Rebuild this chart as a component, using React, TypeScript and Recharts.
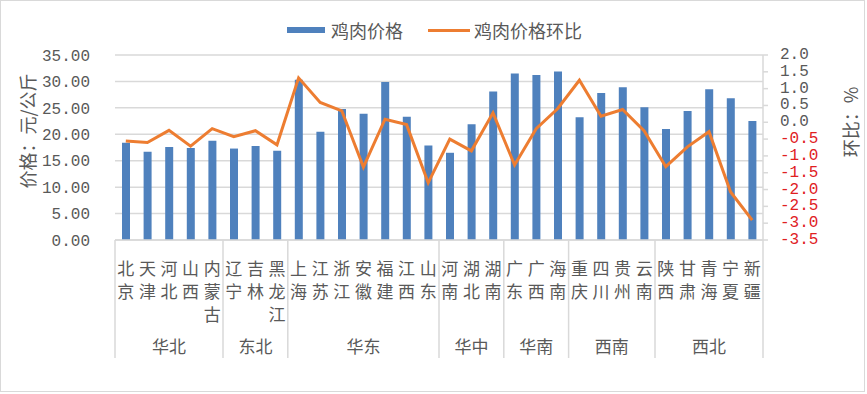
import React from "react";
import {
  ComposedChart, Bar, Line, XAxis, YAxis, CartesianGrid,
} from "recharts";

const provinces = [
  "北京", "天津", "河北", "山西", "内蒙古",
  "辽宁", "吉林", "黑龙江",
  "上海", "江苏", "浙江", "安徽", "福建", "江西", "山东",
  "河南", "湖北", "湖南",
  "广东", "广西", "海南",
  "重庆", "四川", "贵州", "云南",
  "陕西", "甘肃", "青海", "宁夏", "新疆",
];
const groupNames = ["华北", "东北", "华东", "华中", "华南", "西南", "西北"];
const groupSizes = [5, 3, 7, 3, 3, 4, 5];

// 鸡肉价格 (元/公斤)
const prices = [
  18.4, 16.7, 17.6, 17.4, 18.8,
  17.3, 17.8, 16.9,
  30.3, 20.5, 24.8, 23.9, 29.9, 23.3, 17.9,
  16.5, 21.9, 28.1,
  31.5, 31.2, 31.9,
  23.2, 27.8, 28.9, 25.1,
  21.0, 24.4, 28.5, 26.8, 22.5,
];
// 鸡肉价格环比 (%)
const changes = [
  -0.56, -0.60, -0.24, -0.71, -0.19,
  -0.43, -0.25, -0.67,
  1.32, 0.59, 0.34, -1.33, 0.09, -0.07, -1.80,
  -0.50, -0.85, 0.28,
  -1.27, -0.19, 0.41,
  1.25, 0.18, 0.38, -0.26,
  -1.32, -0.73, -0.28, -2.07, -2.91,
];

const priceTicks = [0, 5, 10, 15, 20, 25, 30, 35];
const changeTicks = [-3.5, -3, -2.5, -2, -1.5, -1, -0.5, 0, 0.5, 1, 1.5, 2];

const data = provinces.map((p, i) => ({ name: p, price: prices[i], change: changes[i] }));

// first index of each group
const groupStart: number[] = [];
groupSizes.reduce((acc, n) => { groupStart.push(acc); return acc + n; }, 0);

const W = 867, H = 394;
const M = { top: 55, right: 44, left: 50, bottom: 24 };
const LEFT_AXIS_W = 65, RIGHT_AXIS_W = 60, X_AXIS_H = 130;
const PLOT_W = W - M.left - M.right - LEFT_AXIS_W - RIGHT_AXIS_W;
const BAND = PLOT_W / provinces.length;

const CJK = '"Noto Sans CJK SC", "Noto Sans", sans-serif';
const NUM = '"Liberation Mono", "DejaVu Sans Mono", monospace';
const TEXT = "#595959";
const GRID = "#d9d9d9";

function ProvinceTick({ x, y, payload, index }: any) {
  const chars = String(payload.value).split("");
  const g = groupStart.indexOf(index);
  return (
    <g>
      {chars.map((c, k) => (
        <text key={k} x={x} y={y + 27 + k * 23} textAnchor="middle" dominantBaseline="central"
          fontFamily={CJK} fontSize={17} fill={TEXT}>{c}</text>
      ))}
      {g >= 0 && (
        <>
          <line x1={x - BAND / 2} x2={x - BAND / 2} y1={y} y2={y + 118} stroke={GRID} strokeWidth={1.5} />
          <text x={x + ((groupSizes[g] - 1) / 2) * BAND} y={y + 105} textAnchor="middle" dominantBaseline="central"
            fontFamily={CJK} fontSize={17} fill={TEXT}>{groupNames[g]}</text>
        </>
      )}
      {index === provinces.length - 1 && (
        <line x1={x + BAND / 2} x2={x + BAND / 2} y1={y} y2={y + 118} stroke={GRID} strokeWidth={1.5} />
      )}
    </g>
  );
}

function ChangeTick({ x, y, payload }: any) {
  const v = Number(payload.value);
  return (
    <text x={x} y={y} dominantBaseline="central" textAnchor="start" fontFamily={NUM} fontSize={16}
      fill={v < 0 ? "#E0201F" : TEXT}>{v.toFixed(1)}</text>
  );
}

const axisTitle = (left: number, top: number): React.CSSProperties => ({
  position: "absolute", left, top, transform: "translate(-50%, -50%) rotate(-90deg)",
  fontFamily: CJK, fontSize: 18, color: TEXT, whiteSpace: "nowrap",
});

export default function App() {
  return (
    <div style={{ position: "absolute", left: 0, top: 0, width: W, height: H, background: "#fff" }}>
      <div style={{ position: "absolute", left: 0, top: 0, width: 865, height: 392, boxSizing: "border-box", border: `1px solid ${GRID}` }} />

      {/* legend */}
      <div style={{ position: "absolute", top: 17, left: 287, display: "flex", alignItems: "center", fontFamily: CJK, fontSize: 18, color: TEXT, whiteSpace: "nowrap" }}>
        <span style={{ display: "inline-block", width: 38, height: 6, background: "#4F81BD", marginRight: 6 }} />
        <span>鸡肉价格</span>
        <span style={{ display: "inline-block", width: 42, height: 3, background: "#ED7D31", marginLeft: 25, marginRight: 4 }} />
        <span>鸡肉价格环比</span>
      </div>

      <ComposedChart width={W} height={H} data={data} margin={M} style={{ position: "absolute", left: 0, top: 0 }}>
        <CartesianGrid yAxisId="left" vertical={false} stroke={GRID} strokeWidth={1.5} />
        <XAxis dataKey="name" interval={0} height={X_AXIS_H} tickSize={0} tickMargin={0}
          axisLine={{ stroke: GRID, strokeWidth: 1.5 }} tickLine={false} tick={<ProvinceTick />} />
        <YAxis yAxisId="left" width={LEFT_AXIS_W} domain={[0, 35]} ticks={priceTicks} interval={0}
          tickFormatter={(v: number) => v.toFixed(2)} axisLine={false} tickLine={false} tickSize={0} tickMargin={25}
          tick={{ fontFamily: NUM, fontSize: 16, fill: TEXT }} />
        <YAxis yAxisId="right" orientation="right" width={RIGHT_AXIS_W} domain={[-3.5, 2]} ticks={changeTicks} interval={0}
          axisLine={{ stroke: GRID, strokeWidth: 1.5 }} tickLine={{ stroke: GRID, strokeWidth: 1.5 }} tickSize={5} tickMargin={12}
          tick={<ChangeTick />} />
        <Bar yAxisId="left" dataKey="price" name="鸡肉价格" fill="#4F81BD" barSize={8} isAnimationActive={false} />
        <Line yAxisId="right" dataKey="change" name="鸡肉价格环比" type="linear" stroke="#ED7D31" strokeWidth={3}
          dot={false} activeDot={false} isAnimationActive={false} />
      </ComposedChart>

      <div style={axisTitle(27, 131)}>价格：元/公斤</div>
      <div style={axisTitle(850, 122)}>环比：%</div>
    </div>
  );
}
